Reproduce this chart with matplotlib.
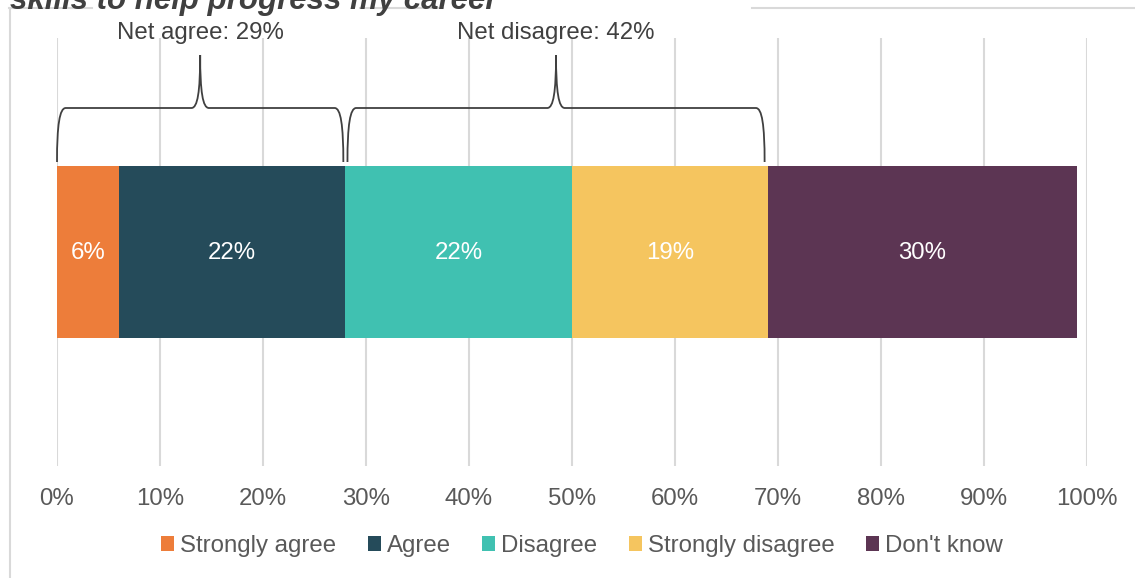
import matplotlib
matplotlib.use("Agg")
import matplotlib.pyplot as plt
from matplotlib.path import Path
from matplotlib.patches import PathPatch, Patch
from matplotlib.lines import Line2D

plt.rcParams["font.family"] = ["Liberation Sans", "DejaVu Sans"]

# data
categories = ["Strongly agree", "Agree", "Disagree", "Strongly disagree", "Don't know"]
values = [6, 22, 22, 19, 30]
colors = ["#ED7D3A", "#254B5A", "#40C1B1", "#F5C55F", "#5C3553"]
tick_labels = ["0%", "10%", "20%", "30%", "40%", "50%", "60%", "70%", "80%", "90%", "100%"]
net_labels = ["Net agree: 29%", "Net disagree: 42%"]
net_spans = [(0, 27.8), (28.2, 68.7)]
title = "skills to help progress my career"

txt = "#595959"
fs = 17.3
W, H = 1135, 578
fig = plt.figure(figsize=(W / 100, H / 100), dpi=100)
ax = fig.add_axes([57 / W, 1 - 466 / H, 1030 / W, 428 / H])

# y axis in pixel units (top = 38, bottom = 466)
ax.set_xlim(0, 100)
ax.set_ylim(466, 38)

left = 0
for v, c in zip(values, colors):
    ax.barh(252, v, left=left, height=172, color=c, zorder=3)
    ax.text(left + v / 2, 253, "%d%%" % v, ha="center", va="center",
            color="white", fontsize=fs, zorder=4)
    left += v

ax.set_xticks(range(0, 101, 10))
ax.set_xticklabels(tick_labels, color=txt, fontsize=fs)
ax.tick_params(axis="x", length=0, pad=16)
ax.set_yticks([])
ax.grid(axis="x", color="#D9D9D9", linewidth=1.5, zorder=0)
for s in ax.spines.values():
    s.set_visible(False)

# braces
def brace(x0, x1, yb=162, yh=108, ytip=55, dx=0.85):
    xm = (x0 + x1) / 2
    verts = [(x0, yb),
             (x0, 125), (x0 + dx * 0.3, yh), (x0 + dx, yh),
             (xm - dx, yh),
             (xm - dx * 0.3, yh), (xm, 92), (xm, ytip),
             (xm, 92), (xm + dx * 0.3, yh), (xm + dx, yh),
             (x1 - dx, yh),
             (x1 - dx * 0.3, yh), (x1, 125), (x1, yb)]
    codes = [Path.MOVETO, Path.CURVE4, Path.CURVE4, Path.CURVE4, Path.LINETO,
             Path.CURVE4, Path.CURVE4, Path.CURVE4,
             Path.CURVE4, Path.CURVE4, Path.CURVE4, Path.LINETO,
             Path.CURVE4, Path.CURVE4, Path.CURVE4]
    p = PathPatch(Path(verts, codes), fill=False, edgecolor="#404040",
                  linewidth=1.3, zorder=5, clip_on=False)
    ax.add_patch(p)
    return xm

for (a, b), lab in zip(net_spans, net_labels):
    xm = brace(a, b)
    ax.text(xm, 33, lab, ha="center", va="center", color="#404040",
            fontsize=fs, clip_on=False)

# legend
handles = [Patch(facecolor=c, edgecolor="none") for c in colors]
fig.legend(handles, categories, loc="center", bbox_to_anchor=(582 / W, 1 - 546 / H),
           ncol=5, frameon=False, fontsize=fs, labelcolor=txt,
           handlelength=0.55, handleheight=0.55, handletextpad=0.25, columnspacing=1.3)

# chart frame (partly hidden behind the title)
fc = "#D9D9D9"
fig.add_artist(Line2D([10 / W, 10 / W], [0, 1 - 8 / H], color=fc, lw=1.5))
for a, b in [(9, 92), (360, 443), (752, 1135)]:
    fig.add_artist(Line2D([a / W, b / W], [1 - 8 / H, 1 - 8 / H], color=fc, lw=1.5))

fig.text(10 / W, 1 - 9.5 / H, title, fontsize=22.5, fontweight="bold", fontstyle="italic",
         color="#404040", ha="left", va="baseline")

fig.savefig("out.png", dpi=100)
